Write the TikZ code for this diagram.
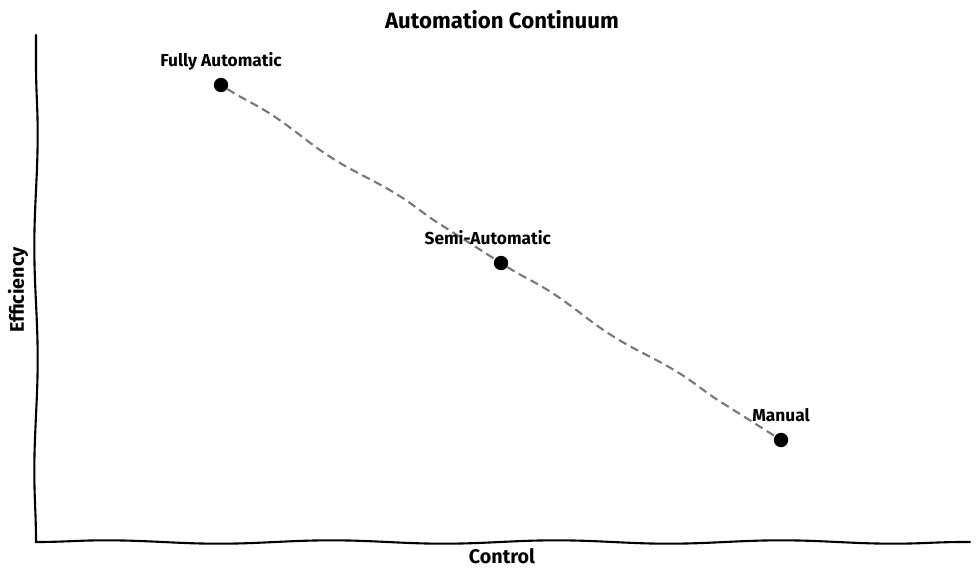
\documentclass[tikz,border=0pt]{standalone}
\usepackage{fontspec}
\setmainfont{Fira Sans}
\usepackage{tikz}
\usetikzlibrary{positioning,arrows.meta,decorations.pathmorphing}
\definecolor{dashgray}{RGB}{120, 120, 120}

\begin{document}
\begin{tikzpicture}[
        x=0.025cm, y=-0.025cm,
        wiggle/.style={decorate, decoration={snake, segment length=160, amplitude=1.2}},
        axisline/.style={wiggle, draw=black, line width=1.5pt, line cap=round},
        trend/.style={decorate, decoration={snake, segment length=110, amplitude=1.5},
            draw=dashgray, line width=1.5pt, dash pattern=on 6pt off 3.5pt},
        dot/.style={circle, fill=black, inner sep=0pt, minimum size=0.36cm},
        lbl/.style={font=\bfseries\fontsize{12.3}{14}\selectfont, inner sep=1pt, text depth=0pt}
    ]
    \useasboundingbox (0,0) rectangle (978,578);
    % axes
    \coordinate (origin) at (36,542);
    \coordinate (ytop) at (36,35);
    \coordinate (xend) at (970,542);
    \draw[axisline] (origin) -- (ytop);
    \draw[axisline] (origin) -- (xend);
    % points
    \node[dot] (full) at (221,85) {};
    \node[dot] (semi) at (501,263) {};
    \node[dot] (manual) at (781,440) {};
    \draw[trend] (full) -- (semi);
    \draw[trend] (semi) -- (manual);
    \node[lbl, above=0.24cm of full] {Fully Automatic};
    \node[lbl, above=0.24cm of semi, xshift=-0.33cm] {Semi-Automatic};
    \node[lbl, above=0.24cm of manual] {Manual};
    % titles
    \node[font=\bfseries\fontsize{15.8}{18}\selectfont] (title) at (502,20) {Automation Continuum};
    \node[font=\bfseries\fontsize{14}{16}\selectfont] (xlabel) at (502,556) {Control};
    \node[font=\bfseries\fontsize{14}{16}\selectfont, rotate=90] (ylabel) at (18,290) {Efficiency};
\end{tikzpicture}
\end{document}
